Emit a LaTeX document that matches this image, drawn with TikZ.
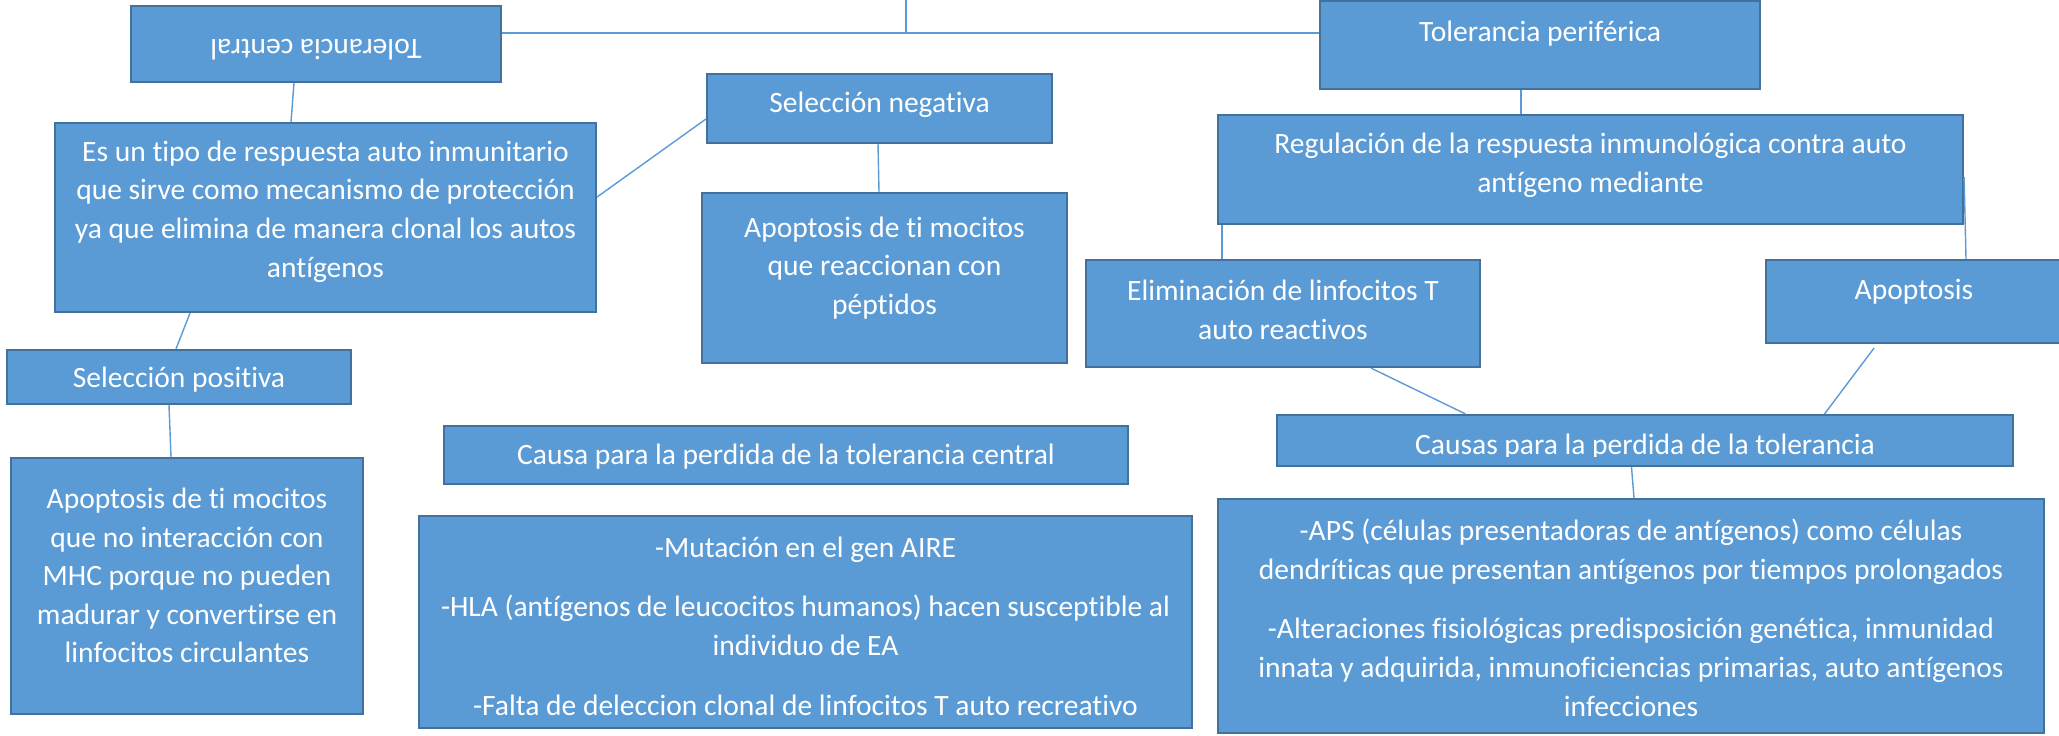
\documentclass[tikz,border=0pt]{standalone}
\usepackage{fontspec}
\setmainfont{Carlito}[Ligatures=NoCommon]
\usetikzlibrary{positioning}
\definecolor{boxfill}{HTML}{5B9BD5}
\definecolor{boxline}{HTML}{41719C}
\definecolor{linkline}{HTML}{5B9BD5}

\begin{document}
\begin{tikzpicture}[x=1mm, y=1mm]
		\tikzstyle{every node}+=[inner sep=0pt]
		\tikzstyle{box}=[draw=boxline, fill=boxfill, line width=0.6pt]
		\tikzstyle{txt}=[text=white, align=center, font=\fontsize{8.4}{11}\selectfont]
		\tikzstyle{link}=[draw=linkline, line width=0.4pt]
		\clip (0,0) rectangle (205.9,-73.5);
		% cajas
		\node [box, minimum width=37mm, minimum height=7.6mm] (tolc) at (31.6,-4.4) {};
		\node [box, minimum width=44mm, minimum height=8.8mm] (tolp) at (154.0,-4.5) {};
		\node [box, minimum width=54.1mm, minimum height=18.9mm] (esun) at (32.55,-21.75) {};
		\node [box, minimum width=34.5mm, minimum height=6.9mm] (selneg) at (87.95,-10.85) {};
		\node [box, minimum width=36.5mm, minimum height=17mm] (apneg) at (88.45,-27.8) {};
		\node [box, minimum width=74.5mm, minimum height=10.9mm] (reg) at (159.05,-16.95) {};
		\node [box, minimum width=39.4mm, minimum height=10.7mm] (elim) at (128.3,-31.35) {};
		\node [box, minimum width=29.6mm, minimum height=8.3mm] (apop) at (191.4,-30.15) {};
		\node [box, minimum width=34.4mm, minimum height=5.4mm] (selpos) at (17.9,-37.7) {};
		\node [box, minimum width=35.2mm, minimum height=25.6mm] (appos) at (18.7,-58.6) {};
		\node [box, minimum width=68.4mm, minimum height=5.8mm] (caucen) at (78.6,-45.5) {};
		\node [box, minimum width=77.3mm, minimum height=21.2mm] (caulist) at (80.55,-62.2) {};
		\node [box, minimum width=73.6mm, minimum height=5.1mm] (causas) at (164.5,-44.05) {};
		\node [box, minimum width=82.6mm, minimum height=23.4mm] (perlist) at (163.1,-61.6) {};
		% textos
		\node [txt, rotate=180] (tolc-t) at ([yshift=-0.6mm]tolc) {Tolerancia central};
		\node [txt] (tolp-t) at ([yshift=1.1mm]tolp) {Tolerancia periférica};
		\node [txt] (esun-t) at ([yshift=0.6mm]esun) {Es un tipo de respuesta auto inmunitario\\que sirve como mecanismo de protección\\ya que elimina de manera clonal los autos\\antígenos};
		\node [txt] (selneg-t) at ([yshift=0.35mm]selneg) {Selección negativa};
		\node [txt] (apneg-t) at ([yshift=1mm]apneg) {Apoptosis de ti mocitos\\que reaccionan con\\péptidos};
		\node [txt] (reg-t) at ([yshift=0.45mm]reg) {Regulación de la respuesta inmunológica contra auto\\antígeno mediante};
		\node [txt] (elim-t) at ([yshift=0.35mm]elim) {Eliminación de linfocitos T\\auto reactivos};
		\node [txt] (apop-t) at ([yshift=0.95mm]apop) {Apoptosis};
		\node [txt] (selpos-t) at ([yshift=-0.3mm]selpos) {Selección positiva};
		\node [txt] (appos-t) at ([yshift=1.05mm]appos) {Apoptosis de ti mocitos\\que no interacción con\\MHC porque no pueden\\madurar y convertirse en\\linfocitos circulantes};
		\node [txt] (caucen-t) at ([yshift=-0.2mm]caucen) {Causa para la perdida de la tolerancia central};
		\node [txt] (caulist-t) at ([yshift=-0.4mm]caulist) {-Mutación en el gen AIRE\\[6pt]-HLA (antígenos de leucocitos humanos) hacen susceptible al\\individuo de EA\\[6pt]-Falta de deleccion clonal de linfocitos T auto recreativo};
		\begin{scope}
		\clip (causas.north west) rectangle ([yshift=1.05mm]causas.south east);
		\node [txt, anchor=base] (causas-t) at ([yshift=-1.35mm]causas) {Causas para la perdida de la tolerancia};
		\end{scope}
		\node [txt] (perlist-t) at ([yshift=-0.15mm]perlist) {-APS (células presentadoras de antígenos) como células\\dendríticas que presentan antígenos por tiempos prolongados\\[6pt]-Alteraciones fisiológicas predisposición genética, inmunidad\\innata y adquirida, inmunoficiencias primarias, auto antígenos\\infecciones};
		% lineas
		\coordinate (top) at (90.6,0);
		\coordinate (hl) at ([yshift=1.1mm]tolc.east);
		\draw [link, line width=0.6pt] (hl) -- (hl -| tolp.west);
		\draw [link] (top) -- (top |- hl);
		\draw [link] ([xshift=-2.2mm]tolc.south) -- ([xshift=-3.45mm]esun.north);
		\draw [link] ([yshift=2.05mm]esun.east) -- ([yshift=-1.05mm]selneg.west);
		\draw [link] ([xshift=-0.15mm]selneg.south) -- ([xshift=-0.55mm]apneg.north);
		\draw [link] ([xshift=-13.55mm]esun.south) -- ([xshift=-0.3mm]selpos.north);
		\draw [link] ([xshift=-1mm]selpos.south) -- ([xshift=-1.6mm]appos.north);
		\draw [link] ([xshift=-1.9mm]tolp.south) -- ([xshift=-1.9mm]tolp.south |- reg.north);
		\draw [link] ([xshift=0.5mm]reg.south west) -- ([xshift=0.5mm]reg.south west |- elim.north);
		\draw [link] ([yshift=-0.75mm]reg.east) -- ([xshift=5.2mm]apop.north);
		\draw [link] ([xshift=8.8mm]elim.south) -- ([xshift=-17.95mm]causas.north);
		\draw [link] ([shift={(-4mm,-0.4mm)}]apop.south) -- ([xshift=17.95mm]causas.north);
		\draw [link] ([xshift=-1.35mm]causas.south) -- ([xshift=0.3mm]perlist.north);
\end{tikzpicture}
\end{document}
